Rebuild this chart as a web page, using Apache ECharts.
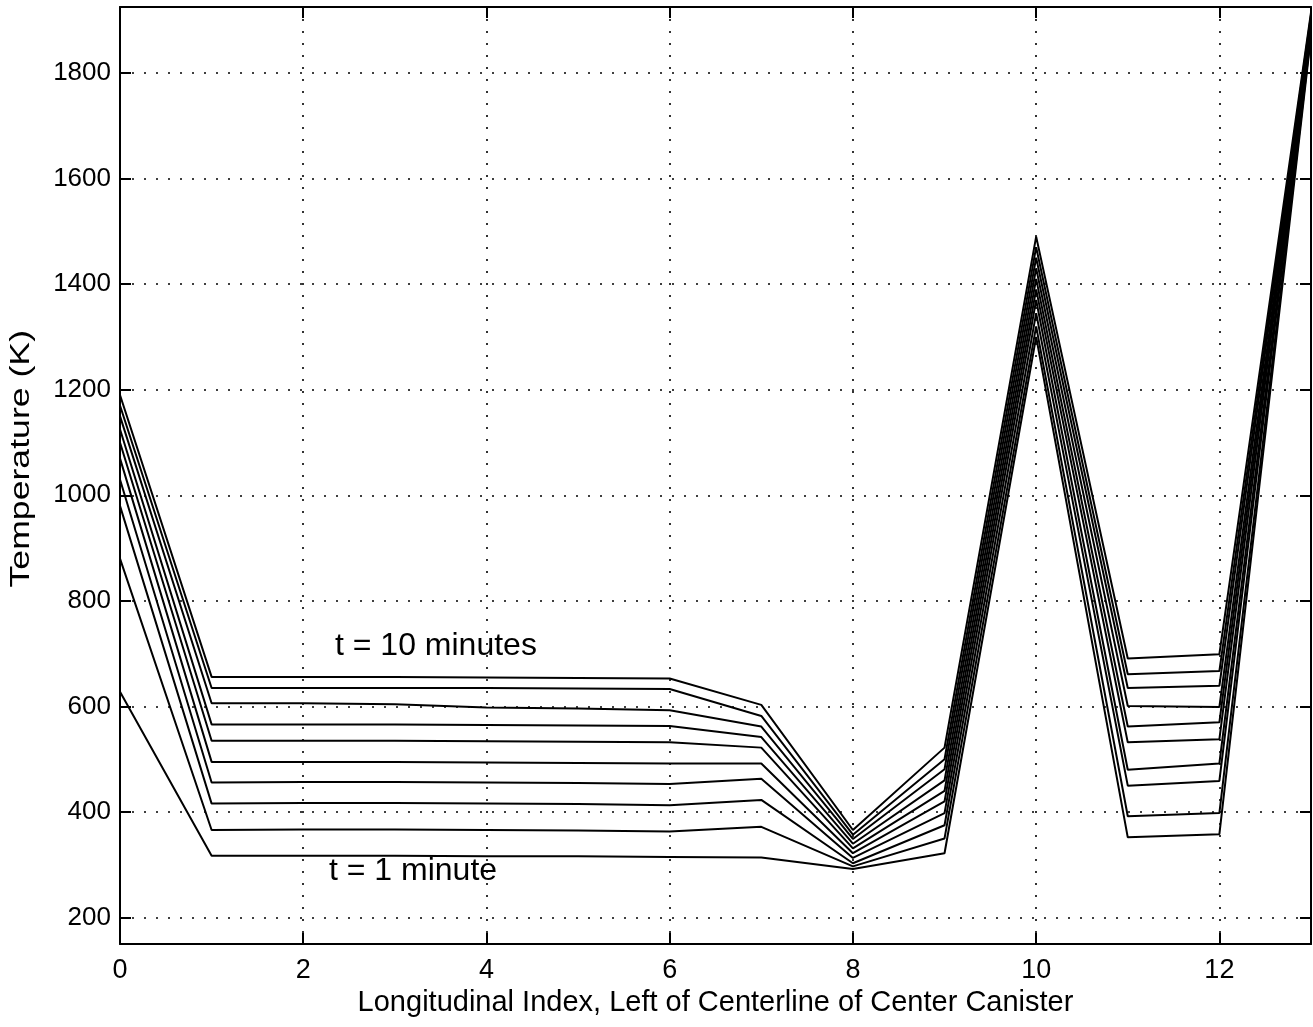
<!DOCTYPE html>
<html>
<head>
<meta charset="utf-8">
<script src="https://cdn.jsdelivr.net/npm/echarts@6/dist/echarts.min.js"></script>
<style>html,body{margin:0;padding:0;background:#fff;}#c{width:1313px;height:1027px;}</style>
</head>
<body>
<div id="c"></div>
<script>
// Longitudinal index positions
const xIndex = [0, 1, 2, 3, 4, 5, 6, 7, 8, 9, 10, 11, 12, 13];
// Temperature (K) curves, t = 1 ... 10 minutes
const t1  = [628, 317, 317, 317, 316, 316, 315, 314, 292, 322, 1300, 352, 358, 1870];
const t2  = [880, 366, 367, 367, 366, 365, 363, 372, 297, 350, 1320, 392, 398, 1875];
const t3  = [980, 416, 417, 417, 416, 415, 413, 423, 303, 375, 1345, 450, 459, 1880];
const t4  = [1030, 456, 457, 457, 456, 455, 453, 463, 313, 398, 1370, 480, 492, 1885];
const t5  = [1070, 495, 495, 495, 494, 493, 492, 492, 322, 420, 1390, 532, 538, 1890];
const t6  = [1100, 535, 535, 535, 534, 533, 532, 522, 331, 440, 1410, 562, 570, 1895];
const t7  = [1125, 566, 566, 566, 565, 564, 563, 542, 340, 460, 1430, 601, 599, 1900];
const t8  = [1150, 606, 606, 604, 598, 596, 593, 562, 349, 481, 1450, 635, 639, 1905];
const t9  = [1170, 635, 635, 635, 635, 634, 633, 582, 357, 500, 1470, 661, 667, 1910];
const t10 = [1190, 656, 656, 656, 655, 654, 653, 603, 366, 522, 1490, 691, 699, 1915];
const curves = [t1, t2, t3, t4, t5, t6, t7, t8, t9, t10];
// Tick labels
const xTicks = [0, 2, 4, 6, 8, 10, 12];
const yTicks = [200, 400, 600, 800, 1000, 1200, 1400, 1600, 1800];

const chart = echarts.init(document.getElementById('c'), null, {renderer: 'canvas'});
const FONT = 'Liberation Sans, Arial, Helvetica, sans-serif';
const gridLine = {show: true, lineStyle: {color: '#000', type: [2, 10], width: 1.6}};

const series = curves.map((arr, i) => ({
  name: 't' + (i + 1),
  type: 'line',
  data: arr.map((v, j) => [xIndex[j], v]),
  symbol: 'none',
  lineStyle: {color: '#000', width: 2},
  silent: true,
  animation: false,
  z: 3
}));

chart.setOption({
  backgroundColor: '#fff',
  animation: false,
  grid: {left: 120, right: 2, top: 7, bottom: 83, containLabel: false},
  xAxis: [{
    type: 'value', min: 0, max: 13, position: 'bottom',
    axisLine: {show: true, onZero: false, lineStyle: {color: '#000', width: 2}},
    axisTick: {show: true, inside: true, length: 11, lineStyle: {color: '#000', width: 2}, customValues: xTicks},
    axisLabel: {color: '#000', fontSize: 27, fontFamily: FONT, margin: 13, customValues: xTicks,
                formatter: v => String(v)},
    splitLine: gridLine,
    name: 'Longitudinal Index, Left of Centerline of Center Canister',
    nameLocation: 'middle', nameGap: 42,
    nameTextStyle: {color: '#000', fontSize: 29, fontFamily: FONT}
  }, {
    type: 'value', min: 0, max: 13, position: 'top',
    axisLine: {show: true, onZero: false, lineStyle: {color: '#000', width: 2}},
    axisTick: {show: true, inside: true, length: 11, lineStyle: {color: '#000', width: 2}, customValues: xTicks},
    axisLabel: {show: false},
    splitLine: {show: false}
  }],
  yAxis: [{
    type: 'value', min: 150, max: 1925, position: 'left',
    axisLine: {show: true, onZero: false, lineStyle: {color: '#000', width: 2}},
    axisTick: {show: true, inside: true, length: 11, lineStyle: {color: '#000', width: 2}, customValues: yTicks},
    axisLabel: {color: '#000', fontSize: 26, fontFamily: FONT, margin: 9, customValues: yTicks,
                formatter: v => String(v)},
    splitLine: gridLine
  }, {
    type: 'value', min: 150, max: 1925, position: 'right',
    axisLine: {show: true, onZero: false, lineStyle: {color: '#000', width: 2}},
    axisTick: {show: true, inside: true, length: 11, lineStyle: {color: '#000', width: 2}, customValues: yTicks},
    axisLabel: {show: false},
    splitLine: {show: false}
  }],
  graphic: [
    {type: 'text', left: 8, top: 330, rotation: Math.PI / 2, scaleX: 1.32, silent: true,
     style: {text: 'Temperature (K)', fill: '#000', font: '27px ' + FONT}},
    {type: 'text', left: 335, top: 630, silent: true,
     style: {text: 't = 10 minutes', fill: '#000', font: '32px ' + FONT}},
    {type: 'text', left: 329, top: 855, silent: true,
     style: {text: 't = 1 minute', fill: '#000', font: '32px ' + FONT}}
  ],
  series: series
});
</script>
</body>
</html>
